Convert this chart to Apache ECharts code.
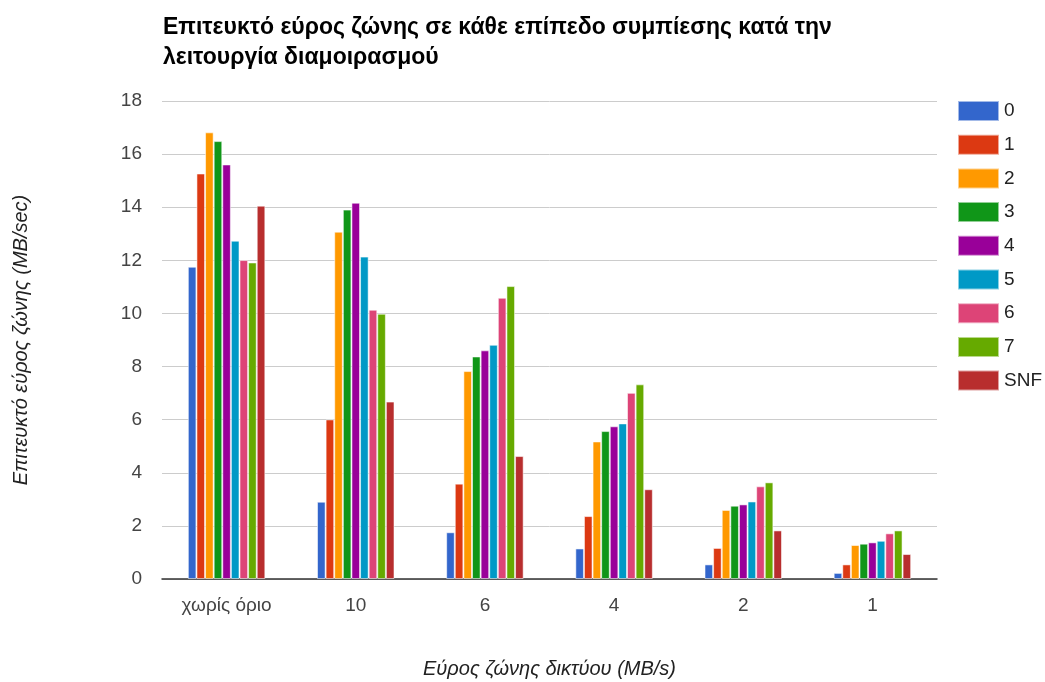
<!DOCTYPE html>
<html>
<head>
<meta charset="utf-8">
<script src="https://cdn.jsdelivr.net/npm/echarts@6/dist/echarts.min.js"></script>
<style>
  html, body { margin: 0; padding: 0; background: #fff; }
  #chart { width: 1045px; height: 682px; }
</style>
</head>
<body>
<div id="chart"></div>
<script>
// Network bandwidth limits (x categories)
const categories = ['χωρίς όριο', '10', '6', '4', '2', '1'];

// Achieved bandwidth (MB/sec) per compression level
const level0 = [11.76, 2.91, 1.76, 1.15, 0.55, 0.23];
const level1 = [15.27, 6.01, 3.59, 2.37, 1.17, 0.55];
const level2 = [16.82, 13.08, 7.83, 5.18, 2.60, 1.28];
const level3 = [16.49, 13.91, 8.38, 5.57, 2.76, 1.33];
const level4 = [15.61, 14.17, 8.61, 5.75, 2.81, 1.38];
const level5 = [12.74, 12.14, 8.82, 5.86, 2.92, 1.44];
const level6 = [12.01, 10.14, 10.59, 7.01, 3.49, 1.72];
const level7 = [11.92, 9.99, 11.03, 7.33, 3.64, 1.83];
const levelSNF = [14.06, 6.68, 4.63, 3.38, 1.83, 0.94];

const seriesNames = ['0', '1', '2', '3', '4', '5', '6', '7', 'SNF'];
const seriesValues = [level0, level1, level2, level3, level4, level5, level6, level7, levelSNF];
const colors = ['#3366cc', '#dc3912', '#ff9900', '#109618', '#990099', '#0099c6', '#dd4477', '#66aa00', '#b82e2e'];

const font = '"Liberation Sans", Arial, sans-serif';

const chart = echarts.init(document.getElementById('chart'), null, { renderer: 'canvas' });

chart.setOption({
  animation: false,
  color: colors,
  title: {
    text: 'Επιτευκτό εύρος ζώνης σε κάθε επίπεδο συμπίεσης κατά την\nλειτουργία διαμοιρασμού',
    left: 158,
    top: 8,
    textStyle: {
      fontFamily: font,
      fontSize: 23,
      fontWeight: 'bold',
      color: '#000',
      lineHeight: 30
    }
  },
  legend: {
    orient: 'vertical',
    left: 952,
    top: 95,
    itemWidth: 41,
    itemHeight: 20,
    itemGap: 11.7,
    icon: 'rect',
    data: seriesNames,
    textStyle: { fontFamily: font, fontSize: 19, color: '#222', lineHeight: 20 }
  },
  grid: { left: 162, right: 108, top: 101, bottom: 103, outerBoundsMode: 'none' },
  xAxis: {
    type: 'category',
    data: categories,
    name: 'Εύρος ζώνης δικτύου (MB/s)',
    nameLocation: 'middle',
    nameGap: 80,
    nameTextStyle: { fontFamily: font, fontSize: 20, fontStyle: 'italic', color: '#222' },
    axisLine: { lineStyle: { color: '#333', width: 1.5 } },
    axisTick: { show: false },
    axisLabel: { fontFamily: font, fontSize: 19, color: '#444', margin: 17 }
  },
  yAxis: {
    type: 'value',
    min: 0,
    max: 18,
    interval: 2,
    name: 'Επιτευκτό εύρος ζώνης (MB/sec)',
    nameLocation: 'middle',
    nameGap: 131,
    nameRotate: 90,
    nameTextStyle: { fontFamily: font, fontSize: 20, fontStyle: 'italic', color: '#222' },
    axisLine: { show: false },
    axisTick: { show: false },
    axisLabel: { fontFamily: font, fontSize: 19, color: '#444', margin: 20 },
    splitLine: { lineStyle: { color: '#cccccc', width: 1 } }
  },
  series: seriesNames.map((name, i) => ({
    name: name,
    type: 'bar',
    data: seriesValues[i],
    barGap: '0%',
    barCategoryGap: '40%',
    itemStyle: { borderColor: 'rgba(255,255,255,0.55)', borderWidth: 1 }
  }))
});
</script>
</body>
</html>
